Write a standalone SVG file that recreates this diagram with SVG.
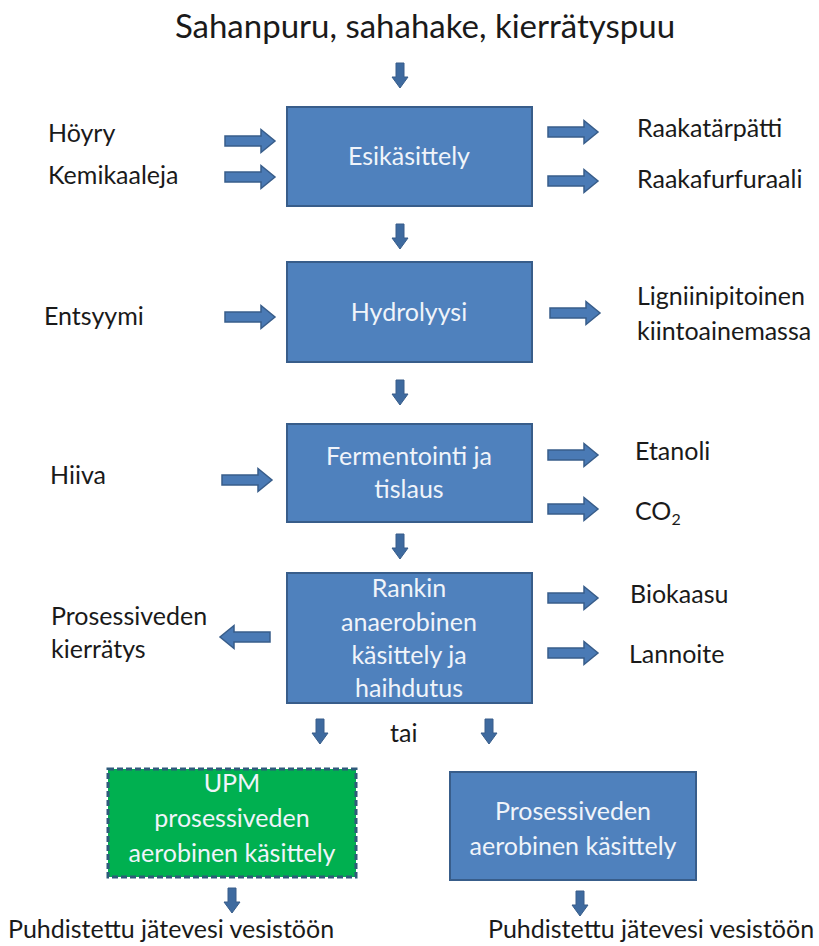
<svg xmlns="http://www.w3.org/2000/svg" xmlns:xlink="http://www.w3.org/1999/xlink" width="819" height="946" viewBox="0 0 819 946">
<style>
  text { font-family: Lato, "Open Sans", "Liberation Sans", sans-serif; fill: #1a1a1a; }
  .t { font-size: 25px; }
  .title { font-size: 33px; text-anchor: middle; }
  .box { fill: #4F81BD; stroke: #385D8A; stroke-width: 2; }
  .green { fill: #00B050; stroke: #2E5A7A; stroke-width: 3; stroke-dasharray: 6 3; }
  .bt { font-size: 25px; fill: #F0F4FA; text-anchor: middle; }
  .arr { fill: #4A7AB5; stroke: #385D8A; stroke-width: 1.5; stroke-linejoin: miter; }
  .darr { fill: #3E6A9F; stroke: #385D8A; stroke-width: 1; }
</style>
<defs>
  <path id="ra" d="M0,-5 H36 V-11.5 L50,0 L36,11.5 V5 H0 Z"/>
  <path id="la" d="M0,-5 H-36 V-11.5 L-50,0 L-36,11.5 V5 H0 Z"/>
  <path id="da" d="M-4,0 H4 V14 H8 L0,25 L-8,14 H-4 Z"/>
</defs>
<rect width="819" height="946" fill="#ffffff"/>

<text id="title" class="title" x="425" y="38">Sahanpuru, sahahake, kierrätyspuu</text>

<g id="connectors">
  <use href="#da" class="darr" x="400" y="63"/>
  <use href="#da" class="darr" x="400" y="224"/>
  <use href="#da" class="darr" x="400" y="380"/>
  <use href="#da" class="darr" x="400" y="534"/>
  <use href="#da" class="darr" x="320" y="719"/>
  <use href="#da" class="darr" x="489" y="719"/>
  <use href="#da" class="darr" x="232" y="888"/>
  <use href="#da" class="darr" x="580" y="891"/>
  <use href="#ra" class="arr" x="225" y="141"/>
  <use href="#ra" class="arr" x="225" y="177"/>
  <use href="#ra" class="arr" x="548" y="132"/>
  <use href="#ra" class="arr" x="548" y="181"/>
  <use href="#ra" class="arr" x="225" y="317"/>
  <use href="#ra" class="arr" x="550" y="313"/>
  <use href="#ra" class="arr" x="222" y="480"/>
  <use href="#ra" class="arr" x="548" y="455"/>
  <use href="#ra" class="arr" x="548" y="509"/>
  <use href="#la" class="arr" x="270" y="637"/>
  <use href="#ra" class="arr" x="548" y="598"/>
  <use href="#ra" class="arr" x="548" y="653"/>
</g>

<g id="esikasittely">
  <rect class="box" x="287" y="107" width="245" height="99"/>
  <text class="bt" x="409" y="165">Esikäsittely</text>
</g>
<g id="hydrolyysi">
  <rect class="box" x="287" y="262" width="245" height="100"/>
  <text class="bt" x="409" y="321">Hydrolyysi</text>
</g>
<g id="fermentointi">
  <rect class="box" x="287" y="424" width="245" height="98"/>
  <text class="bt" x="409" y="465">Fermentointi ja</text>
  <text class="bt" x="409" y="498">tislaus</text>
</g>
<g id="rankin">
  <rect class="box" x="287" y="573" width="245" height="130"/>
  <text class="bt" x="409" y="597">Rankin</text>
  <text class="bt" x="409" y="631">anaerobinen</text>
  <text class="bt" x="409" y="664">käsittely ja</text>
  <text class="bt" x="409" y="697">haihdutus</text>
</g>
<g id="upm">
  <rect class="green" x="108" y="769" width="248" height="108"/>
  <text class="bt" x="232" y="792">UPM</text>
  <text class="bt" x="232" y="827">prosessiveden</text>
  <text class="bt" x="232" y="862">aerobinen käsittely</text>
</g>
<g id="aerobinen">
  <rect class="box" x="450" y="772" width="246" height="108"/>
  <text class="bt" x="573" y="820">Prosessiveden</text>
  <text class="bt" x="573" y="855">aerobinen käsittely</text>
</g>

<g id="labels">
  <text class="t" x="48" y="142">Höyry</text>
  <text class="t" x="48" y="184">Kemikaaleja</text>
  <text class="t" x="44" y="325">Entsyymi</text>
  <text class="t" x="50" y="484">Hiiva</text>
  <text class="t" x="51" y="625">Prosessiveden</text>
  <text class="t" x="51" y="658">kierrätys</text>
  <text class="t" x="637" y="137">Raakatärpätti</text>
  <text class="t" x="637" y="188">Raakafurfuraali</text>
  <text class="t" x="637" y="305">Ligniinipitoinen</text>
  <text class="t" x="637" y="340">kiintoainemassa</text>
  <text class="t" x="635" y="460">Etanoli</text>
  <text class="t" x="635" y="520">CO<tspan font-size="16" dy="5">2</tspan></text>
  <text class="t" x="630" y="603">Biokaasu</text>
  <text class="t" x="629" y="663">Lannoite</text>
  <text class="t" x="390" y="742">tai</text>
  <text class="t" x="8" y="938">Puhdistettu jätevesi vesistöön</text>
  <text class="t" x="488" y="938">Puhdistettu jätevesi vesistöön</text>
</g>
</svg>
